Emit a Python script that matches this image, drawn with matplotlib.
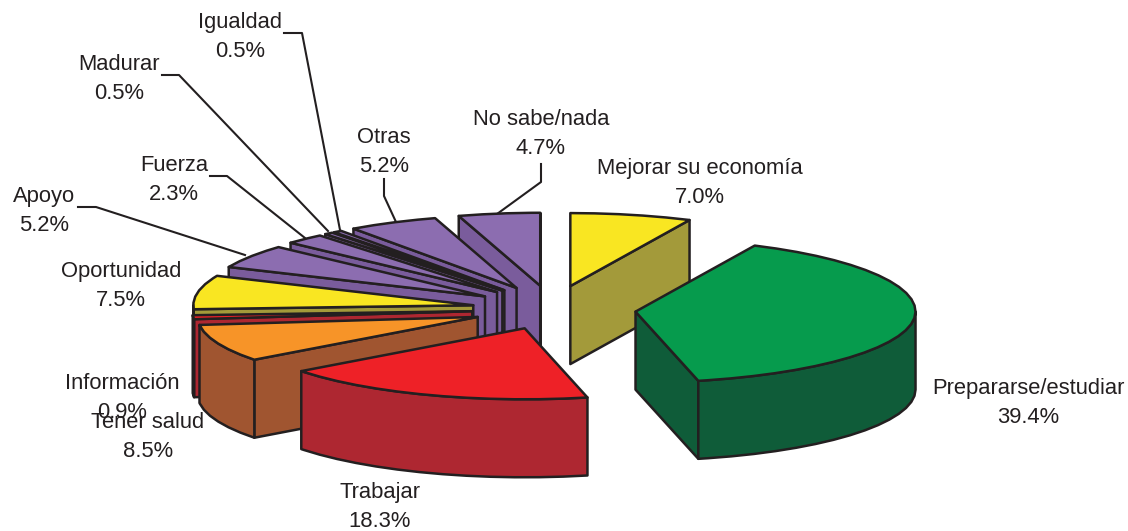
import matplotlib
matplotlib.use('Agg')
import matplotlib.pyplot as plt
from matplotlib.patches import Polygon
import numpy as np

plt.rcParams['font.family'] = ['Liberation Sans', 'DejaVu Sans']

# slices, clockwise from 12 o'clock
categories = ['Mejorar su economía', 'Prepararse/estudiar', 'Trabajar', 'Tener salud', 'Información',
              'Oportunidad', 'Apoyo', 'Fuerza', 'Madurar', 'Igualdad', 'Otras', 'No sabe/nada']
values = [7.0, 39.4, 18.3, 8.5, 0.9, 7.5, 5.2, 2.3, 0.5, 0.5, 5.2, 4.7]
top_colors = ['#f9e622', '#069b4d', '#ee2127', '#f79428', '#ee2127', '#f9e622',
              '#8c6db0', '#8c6db0', '#8c6db0', '#8c6db0', '#8c6db0', '#8c6db0']
wall_colors = ['#a39a3a', '#0f5c39', '#ae2731', '#a05530', '#ae2731', '#a39a3a',
               '#7a5c9c', '#7a5c9c', '#7a5c9c', '#7a5c9c', '#7a5c9c', '#7a5c9c']

# label centres in pixels, same order as categories
label_pos = [(700, 183), (1028, 403), (380, 507), (148, 437), (122, 398), (121, 286),
             (44, 211), (174, 180), (119, 79), (240, 37), (384, 152), (541, 134)]
leaders = [
    ([284, 302, 340], [33, 33, 230]),
    ([162, 179, 328], [75, 75, 231]),
    ([210, 227, 305], [176, 176, 238]),
    ([78, 96, 245], [207, 207, 255]),
    ([384, 384, 396], [179, 196, 222]),
    ([541, 541, 497], [164, 182, 214]),
]

# pie geometry in pixels, the front half is a bit flatter like the excel perspective
cx, cy = 552, 309.5
rx = 280
ry_back, ry_front = 73, 71
explode_right, explode_left = 84, 80
explode_back, explode_front = 24, 20
depth = 78
edge = '#231f20'

fig = plt.figure(figsize=(11.28, 5.31), dpi=100)
ax = fig.add_axes([0, 0, 1, 1])
ax.set_xlim(0, 1128)
ax.set_ylim(531, 0)
ax.axis('off')

for xs, ys in leaders:
    ax.plot(xs, ys, color=edge, lw=1.5, zorder=1)


def rim(x0, y0, a, b):
    t = np.radians(np.arange(a, b, 5.0).tolist() + [b])
    ry = np.where(np.cos(t) > 0, ry_back, ry_front)
    return np.column_stack([x0 + rx * np.sin(t), y0 - ry * np.cos(t)])


def wall(p, q, color, z):
    pts = [p, q, (q[0], q[1] + depth), (p[0], p[1] + depth)]
    ax.add_patch(Polygon(pts, closed=True, fc=color, ec=edge, lw=1.8, joinstyle='round', zorder=z))


edges = np.concatenate([[0], np.cumsum(values)]) * 360 / sum(values)
mids = (edges[:-1] + edges[1:]) / 2
# back slices first so the front ones cover them
order = np.argsort(-np.abs(mids - 180))
for n, i in enumerate(order):
    a, b, m = edges[i], edges[i + 1], np.radians(mids[i])
    sx, cy_m = np.sin(m), np.cos(m)
    x0 = cx + (explode_right if sx > 0 else explode_left) * sx
    y0 = cy - (explode_back if cy_m > 0 else explode_front) * cy_m
    z = 2 + n
    pts = rim(x0, y0, a, b)
    # cut faces, only those turned to the viewer
    if np.cos(np.radians(a - 90)) < 0:
        wall((x0, y0), pts[0], wall_colors[i], z)
    if np.cos(np.radians(b + 90)) < 0:
        wall((x0, y0), pts[-1], wall_colors[i], z)
    # outer rim, front half only
    lo, hi = max(a, 90), min(b, 270)
    if lo < hi:
        front = rim(x0, y0, lo, hi)
        band = np.vstack([front, (front + [0, depth])[::-1]])
        ax.add_patch(Polygon(band, closed=True, fc=wall_colors[i], ec=edge, lw=1.8, joinstyle='round', zorder=z))
    top = np.vstack([[x0, y0], pts])
    ax.add_patch(Polygon(top, closed=True, fc=top_colors[i], ec=edge, lw=1.8, joinstyle='round', zorder=z))

for name, v, (x, y) in zip(categories, values, label_pos):
    ax.text(x, y, f'{name}\n{v:.1f}%', ha='center', va='center', fontsize=15.8, color=edge,
            linespacing=1.5, zorder=50)

fig.savefig('out.png', dpi=100)
